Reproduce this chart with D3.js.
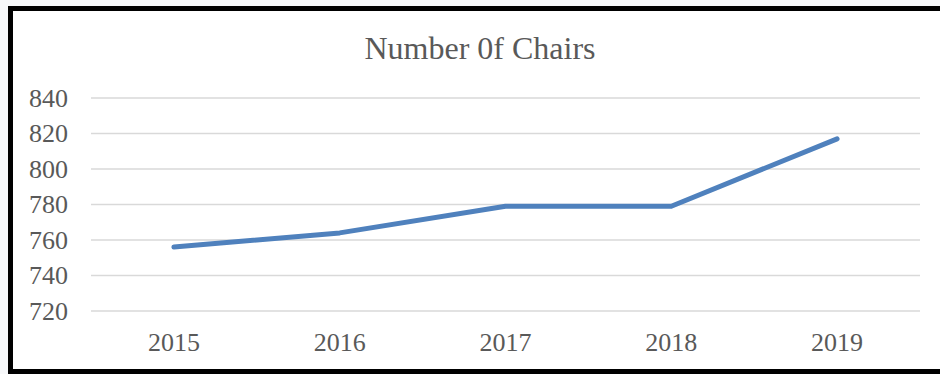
<!DOCTYPE html>
<html>
<head>
<meta charset="utf-8">
<script src="https://cdn.jsdelivr.net/npm/d3@7"></script>
<style>
  body { margin: 0; background: #f7f8fa; }
  svg { display: block; }
</style>
</head>
<body>
<svg></svg>
<script>
const years = ['2015', '2016', '2017', '2018', '2019'];
const chairs = [756, 764, 779, 779, 817];
const yTicks = [720, 740, 760, 780, 800, 820, 840];

const svgWidth = 940;
const svgHeight = 374;
const margin = { top: 98, right: 20, bottom: 63, left: 91 };
const width = svgWidth - margin.left - margin.right;
const height = svgHeight - margin.top - margin.bottom;
const serif = '"Liberation Serif", "Times New Roman", serif';

const root = d3.select('svg')
    .attr('width', svgWidth)
    .attr('height', svgHeight);

// chart frame
root.append('rect')
    .attr('x', 10.5)
    .attr('y', 8.5)
    .attr('width', 940)
    .attr('height', 363)
    .attr('fill', 'white')
    .attr('stroke', 'black')
    .attr('stroke-width', 5);

root.append('text')
    .attr('x', 480)
    .attr('y', 59)
    .attr('text-anchor', 'middle')
    .attr('font-family', serif)
    .attr('font-size', '32px')
    .attr('fill', '#595959')
    .text('Number 0f Chairs');

const svg = root.append('g')
    .attr('transform', `translate(${margin.left}, ${margin.top})`);

const xScale = d3.scaleBand()
    .domain(years)
    .range([0, width]);

const yScale = d3.scaleLinear()
    .domain([720, 840])
    .range([height, 0]);

svg.selectAll('.grid')
    .data(yTicks)
    .enter().append('line')
    .attr('class', 'grid')
    .attr('x1', 0)
    .attr('x2', width)
    .attr('y1', d => yScale(d))
    .attr('y2', d => yScale(d))
    .attr('stroke', '#d9d9d9')
    .attr('stroke-width', 1.5);

const yAxis = svg.append('g')
    .call(d3.axisLeft(yScale).tickValues(yTicks).tickSize(0).tickPadding(23));
yAxis.select('.domain').remove();
yAxis.selectAll('text')
    .attr('font-family', serif)
    .attr('font-size', '26px')
    .attr('fill', '#595959');

const xAxis = svg.append('g')
    .attr('transform', `translate(0, ${height})`)
    .call(d3.axisBottom(xScale).tickSize(0).tickPadding(22));
xAxis.select('.domain').remove();
xAxis.selectAll('text')
    .attr('font-family', serif)
    .attr('font-size', '26px')
    .attr('fill', '#595959');

const line = d3.line()
    .x((d, i) => xScale(years[i]) + xScale.bandwidth() / 2)
    .y(d => yScale(d));

svg.append('path')
    .datum(chairs)
    .attr('fill', 'none')
    .attr('stroke', '#4f81bd')
    .attr('stroke-width', 5)
    .attr('stroke-linecap', 'round')
    .attr('stroke-linejoin', 'round')
    .attr('d', line);
</script>
</body>
</html>
